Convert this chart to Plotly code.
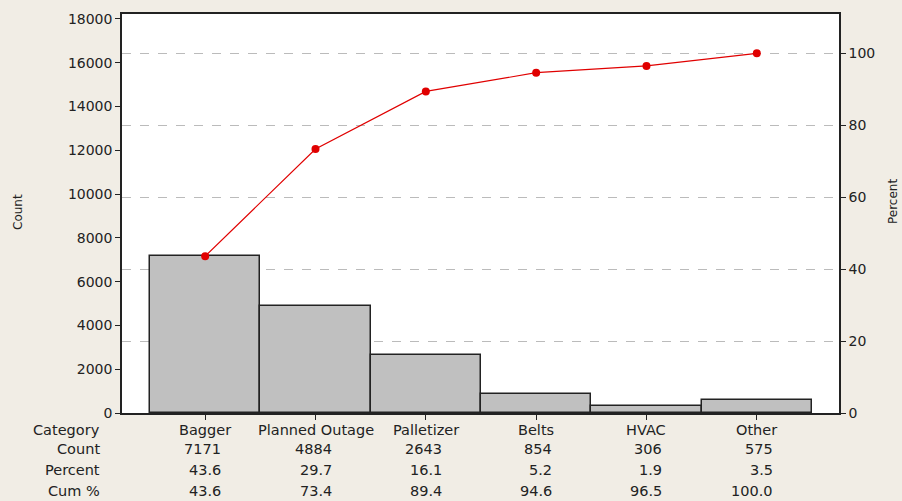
import plotly.graph_objects as go

categories = ["Bagger", "Planned Outage", "Palletizer", "Belts", "HVAC", "Other"]
counts = [7171, 4884, 2643, 854, 306, 575]
percents = [43.6, 29.7, 16.1, 5.2, 1.9, 3.5]
cum_pct = [43.6, 73.4, 89.4, 94.6, 96.5, 100.0]
count_ticks = [0, 2000, 4000, 6000, 8000, 10000, 12000, 14000, 16000, 18000]
pct_ticks = [0, 20, 40, 60, 80, 100]

W, H = 902, 501
L, R, T, B = 122, 63, 14, 88
plot_h = H - T - B
plot_w = W - L - R

total = sum(counts)
y1_max = 18228
y2_max = y1_max / total * 100

BG = "#F1EDE5"
FONT = "DejaVu Sans"
TXT = "#222222"

x_idx = list(range(len(categories)))

fig = go.Figure()
fig.add_trace(go.Bar(
    x=x_idx, y=counts, width=1.0,
    marker=dict(color="#C0C0C0", line=dict(color="#222222", width=1.5)),
    yaxis="y", showlegend=False, hoverinfo="skip",
))
fig.add_trace(go.Scatter(
    x=x_idx, y=cum_pct, yaxis="y2", mode="lines+markers",
    line=dict(color="#E00000", width=1.2),
    marker=dict(color="#E00000", size=8),
    showlegend=False, hoverinfo="skip",
))

def py(pix):
    return (H - B - pix) / plot_h

def px(pix):
    return (pix - L) / plot_w

ann = []
rows = [("Category", 430), ("Count", 449), ("Percent", 470), ("Cum %", 491)]
for label, ypix in rows:
    ann.append(dict(x=px(102), y=py(ypix), xref="paper", yref="paper",
                    text=label, showarrow=False, xanchor="right", yanchor="middle",
                    font=dict(family=FONT, size=14.5, color=TXT)))
for i, cat in enumerate(categories):
    ann.append(dict(x=i, y=py(430), xref="x", yref="paper", text=cat,
                    showarrow=False, xanchor="center", yanchor="middle",
                    font=dict(family=FONT, size=14.5, color=TXT)))
    for vals, ypix, fmt in [(counts, 449, "{:d}"), (percents, 470, "{:.1f}"), (cum_pct, 491, "{:.1f}")]:
        ann.append(dict(x=i, y=py(ypix), xref="x", yref="paper", text=fmt.format(vals[i]),
                        showarrow=False, xanchor="right", yanchor="middle", xshift=18,
                        font=dict(family=FONT, size=14.5, color=TXT)))
ann.append(dict(x=px(18), y=py(212), xref="paper", yref="paper", text="Count",
                textangle=-90, showarrow=False, xanchor="center", yanchor="middle",
                font=dict(family=FONT, size=12, color=TXT)))
ann.append(dict(x=px(893), y=py(202), xref="paper", yref="paper", text="Percent",
                textangle=-90, showarrow=False, xanchor="center", yanchor="middle",
                font=dict(family=FONT, size=12, color=TXT)))

fig.update_layout(
    width=W, height=H,
    margin=dict(l=L, r=R, t=T, b=B),
    paper_bgcolor=BG, plot_bgcolor="white",
    bargap=0,
    font=dict(family=FONT, size=14, color=TXT),
    xaxis=dict(range=[-0.754, 5.745], tickvals=x_idx, ticktext=[""] * 6,
               ticks="outside", ticklen=5, tickcolor="#222", showgrid=False,
               showline=True, linecolor="#222", linewidth=1.5, mirror=True,
               zeroline=False, fixedrange=True),
    yaxis=dict(range=[0, y1_max], tickvals=count_ticks,
               ticktext=[str(v) for v in count_ticks],
               ticks="outside", ticklen=5, tickcolor="#222", showgrid=False,
               showline=True, linecolor="#222", linewidth=1.5, zeroline=False,
               tickfont=dict(family=FONT, size=14, color=TXT)),
    yaxis2=dict(range=[0, y2_max], tickvals=pct_ticks, overlaying="y", side="right",
                ticks="outside", ticklen=5, tickcolor="#222",
                showgrid=True, gridcolor="#BBBBBB", griddash="dash", gridwidth=1,
                showline=True, linecolor="#222", linewidth=1.5, zeroline=False,
                tickfont=dict(family=FONT, size=14, color=TXT)),
    annotations=ann,
)

fig.write_html(
    "out.html",
    config={"displayModeBar": False},
    post_script="document.body.style.margin='0';document.body.style.overflow='hidden';",
)
